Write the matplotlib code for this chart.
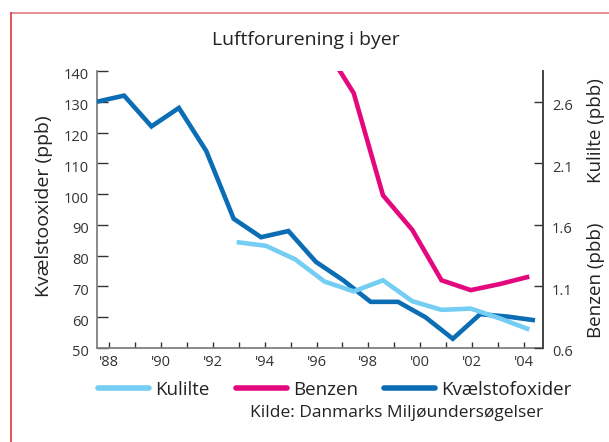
import matplotlib
matplotlib.use("Agg")
import matplotlib.pyplot as plt
from matplotlib.lines import Line2D
from matplotlib.transforms import ScaledTranslation
import numpy as np

plt.rcParams['font.family'] = ['Open Sans', 'DejaVu Sans']

# ---- data ----
title = "Luftforurening i byer"
years_nox = list(range(1988, 2005))
nox = [130, 132, 122, 128, 114, 92, 86, 88, 78, 72, 65, 65, 60, 53, 61, 60.2, 59]

years_kb = list(range(1994, 2005))
kulilte = [1.46, 1.43, 1.32, 1.14, 1.06, 1.15, 0.98, 0.91, 0.92, 0.84, 0.75]

years_benzen = list(range(1997, 2005))
benzen = [3.05, 2.67, 1.84, 1.56, 1.15, 1.07, 1.12, 1.18]

tick_years = list(range(1988, 2005))
tick_labels = ["'88", "'90", "'92", "'94", "'96", "'98", "'00", "'02", "'04"]
left_ticks = [50, 60, 70, 80, 90, 100, 110, 120, 130, 140]
right_ticks = [0.6, 1.1, 1.6, 2.1, 2.6]

c_nox = '#0b6db3'
c_kul = '#74cdf2'
c_ben = '#e4087f'

W, H = 609, 442
fig = plt.figure(figsize=(W / 100, H / 100), dpi=100)
fig.patch.set_facecolor('white')

# frame in pixels
L, R, T, B = 97, 543, 71, 348
pos = [L / W, 1 - B / H, (R - L) / W, (B - T) / H]

ax = fig.add_axes(pos)
ax.set_xlim(1987.525, 2004.745)
ax.set_ylim(50, 140)
ax.spines['top'].set_visible(False)
for s in ['left', 'bottom', 'right']:
    ax.spines[s].set_color('#808080')
    ax.spines[s].set_linewidth(1.3)
ax.set_xticks(tick_years)
ax.set_xticklabels([tick_labels[i // 2] if i % 2 == 0 else '' for i in range(len(tick_years))])
ax.set_yticks(left_ticks)
ax.set_yticklabels([str(v) for v in left_ticks])
ax.tick_params(axis='x', direction='in', length=4.3, width=1, color='#333333',
               labelsize=10.5, pad=5, labelcolor='#333333')
ax.tick_params(axis='y', direction='in', length=8, width=1, color='#333333',
               labelsize=10.5, pad=6, labelcolor='#333333')
off = ScaledTranslation(0, -3 / 100, fig.dpi_scale_trans)
for lab in ax.get_yticklabels():
    lab.set_transform(lab.get_transform() + off)

axr = ax.twinx()
axr.set_ylim(0.6, 2.85)
axr.set_yticks(right_ticks)
axr.set_yticklabels([f"{v:.1f}" for v in right_ticks])
for s in ['left', 'bottom', 'top']:
    axr.spines[s].set_visible(False)
axr.spines['right'].set_color('#404040')
axr.spines['right'].set_linewidth(1.3)
axr.tick_params(axis='y', direction='in', length=6.5, width=1, color='#333333',
                labelsize=10.5, pad=6.5, labelcolor='#333333')
for lab in axr.get_yticklabels():
    lab.set_transform(lab.get_transform() + off)

# series axes (overlay)
ax_n = fig.add_axes(pos, frameon=False)
ax_n.set_xlim(1988.011, 2004.292)
ax_n.set_ylim(50, 140)
ax_n.axis('off')
l_nox, = ax_n.plot(years_nox, nox, color=c_nox, lw=3.3, solid_joinstyle='miter',
                   solid_capstyle='butt', zorder=2)

ax_k = fig.add_axes(pos, frameon=False)
ax_k.set_xlim(1989.226, 2004.468)
ax_k.set_ylim(0.6, 2.85)
ax_k.axis('off')
l_ben, = ax_k.plot(years_benzen, benzen, color=c_ben, lw=3.3, solid_joinstyle='miter',
                   solid_capstyle='butt')
l_kul, = ax_k.plot(years_kb, kulilte, color=c_kul, lw=3.3, solid_joinstyle='miter',
                   solid_capstyle='butt')

# texts
fig.text(306 / W, 1 - 40 / H, title, ha='center', va='center', fontsize=14, color='#222222')
fig.text(44 / W, 1 - 206 / H, "Kvælstooxider (ppb)", rotation=90, ha='center', va='center',
         fontsize=14, color='#222222')
fig.text(596 / W, 1 - 131 / H, "Kulilte (pbb)", rotation=90, ha='center', va='center',
         fontsize=13.5, color='#222222')
fig.text(596 / W, 1 - 280 / H, "Benzen (pbb)", rotation=90, ha='center', va='center',
         fontsize=13.5, color='#222222')
fig.text(397 / W, 1 - 413 / H, "Kilde: Danmarks Miljøundersøgelser", ha='center', va='center',
         fontsize=12.5, color='#222222')

leg_handles = [Line2D([], [], color=c_kul, lw=4, solid_capstyle='round'),
               Line2D([], [], color=c_ben, lw=4, solid_capstyle='round'),
               Line2D([], [], color=c_nox, lw=4, solid_capstyle='round')]
leg = fig.legend(leg_handles, ["Kulilte", "Benzen", "Kvælstofoxider"], ncol=3,
                 loc='center', bbox_to_anchor=(335 / W, 1 - 390 / H), frameon=False,
                 fontsize=13.5, handlelength=2.7, handletextpad=0.35, columnspacing=1.4,
                 borderpad=0, borderaxespad=0)
for t in leg.get_texts():
    t.set_color('#222222')

# red border lines
fig.add_artist(Line2D([11 / W, 1], [1 - 13 / H, 1 - 13 / H], color='#e07c80', lw=1.2))
fig.add_artist(Line2D([11 / W, 11 / W], [0, 1 - 13 / H], color='#d93a40', lw=1.2))

fig.savefig("out.png", dpi=100, facecolor='white')
